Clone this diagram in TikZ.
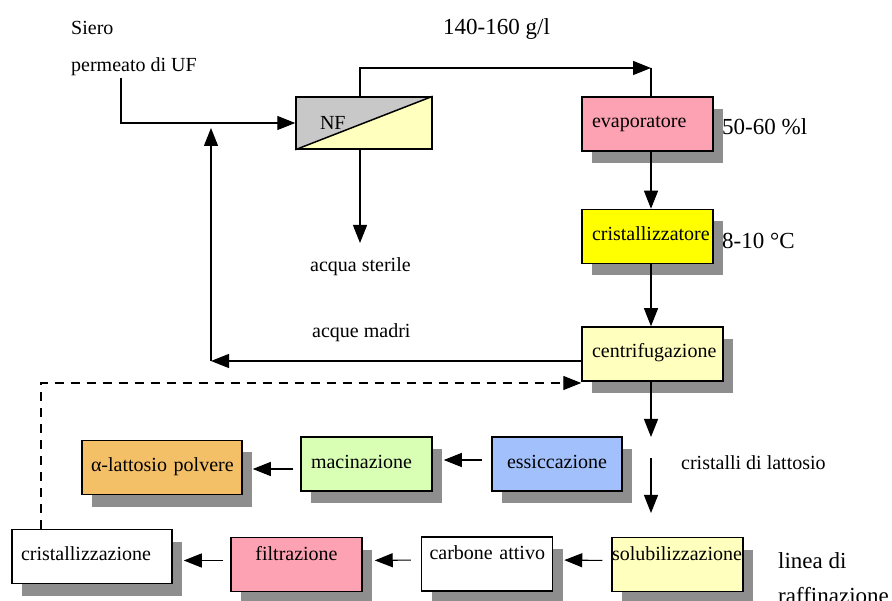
\documentclass[tikz,border=0pt]{standalone}
\usepackage{fontspec}
\setmainfont{Liberation Serif}
\usetikzlibrary{arrows.meta,shadows}
\definecolor{grigio}{HTML}{C8C8C8}
\definecolor{giallino}{HTML}{FFFFBE}
\definecolor{rosa}{HTML}{FCA2B2}
\definecolor{giallo}{HTML}{FFFF00}
\definecolor{azzurro}{HTML}{A2C1FC}
\definecolor{verdino}{HTML}{D9FFB5}
\definecolor{arancio}{HTML}{F3BF67}
\definecolor{ombra}{HTML}{8E8E8E}
\begin{document}
\begin{tikzpicture}[x=1pt,y=-1pt,font=\fontsize{20}{24}\selectfont,
  box/.style={draw,line width=1.5pt,text width=#1,minimum height=54pt,text height=12pt,text depth=4pt,inner xsep=10pt,align=left,
    drop shadow={shadow xshift=10pt,shadow yshift=-12pt,fill=ombra,opacity=1}},
  alto/.style={text depth=21pt},
  lab/.style={anchor=base west,inner sep=0pt},
  big/.style={font=\fontsize{23}{28}\selectfont},
  arr/.style={line width=1.1pt,-{Triangle[length=18pt,width=14pt]}}]
\useasboundingbox (0,0) rectangle (892,601);
\node[draw,line width=1.5pt,text width=88pt,minimum height=52pt,inner xsep=24pt,align=left,
  path picture={\fill[grigio] (path picture bounding box.north west) -- (path picture bounding box.north east) -- (path picture bounding box.south west) -- cycle;
  \fill[giallino] (path picture bounding box.south east) -- (path picture bounding box.north east) -- (path picture bounding box.south west) -- cycle;}] (nf) at (364,123) {NF};
\draw[line width=1.5pt] (nf.south west) -- (nf.north east);
\node[box=111pt,fill=rosa] (evap) at (647.5,124) {evaporatore};
\node[box=111pt,fill=giallo] (crist) at (647.5,236.5) {cristallizzatore};
\node[box=121pt,fill=giallino] (centr) at (652.5,354) {centrifugazione};
\node[box=110pt,fill=azzurro,align=center] (essic) at (557,464) {essiccazione};
\node[box=111pt,fill=verdino] (macin) at (366.5,464) {macinazione};
\node[box=142pt,fill=arancio,inner xsep=9pt] (alfa) at (162,467.5) {\mbox{α-lattosio polvere}};
\node[box=131pt,fill=giallino,inner xsep=0pt,alto] (solub) at (677.5,564.5) {solubilizzazione};
\node[box=115pt,fill=white,inner xsep=8pt,alto] (carb) at (487,564) {\mbox{carbone attivo}};
\node[box=111pt,fill=rosa,align=center,alto] (filtr) at (296.5,564.5) {filtrazione};
\node[box=142pt,fill=white,inner xsep=9pt] (cristz) at (92,556.5) {cristallizzazione};
\node[lab] (siero) at (71,35) {Siero};
\node[lab] (permeato) at (71,72) {permeato di UF};
\node[lab,big] (conc) at (443,35) {140-160 g/l};
\node[lab,big] (grado) at (722,135) {50-60 \%l};
\node[lab,big] (temp) at (722,249) {8-10 °C};
\node[lab] (sterile) at (310,272) {acqua sterile};
\node[lab] (madri) at (312,338) {acque madri};
\node[lab] (cristalli) at (681,470) {cristalli di lattosio};
\node[lab,big] (linea) at (778,568) {linea di};
\node[lab,big] (raff) at (778,603) {raffinazione};
\coordinate (ingresso) at (121,78);
\coordinate (gomito) at (651,68);
\coordinate (scarico) at (360,243);
\coordinate (ritorno) at (211,361);
\coordinate (ritorno2) at (211,128);
\coordinate (tratto) at (41,383);
\coordinate (a1) at (651,437);
\coordinate (a2) at (651,458);
\coordinate (a3) at (651,513);
\draw[arr] (ingresso) |- (nf.west);
\draw[arr] (nf.north -| scarico) |- (gomito);
\draw[line width=1.1pt] (gomito) -- (gomito |- evap.north);
\draw[arr] (nf.south -| scarico) -- (scarico);
\draw[arr] (evap.south -| gomito) -- (crist.north -| gomito);
\draw[arr] (crist.south -| gomito) -- (centr.north -| gomito);
\draw[arr] (centr.west |- ritorno) -- (ritorno);
\draw[arr] (ritorno) -- (ritorno2);
\draw[arr,dash pattern=on 9pt off 7pt] (cristz.north -| tratto) -- (tratto) -- (tratto -| centr.west);
\draw[arr] (centr.south -| gomito) -- (a1);
\draw[arr] (a2) -- (a3);
\draw[arr,shorten <=9pt,shorten >=11pt] ([yshift=4pt]essic.west) -- ([yshift=4pt]macin.east);
\draw[arr,shorten <=7pt,shorten >=10pt] ([yshift=-5pt]macin.west) -- ([yshift=-5pt]macin.west -| alfa.east);
\draw[arr,shorten <=9pt,shorten >=11pt] ([yshift=4pt]solub.west) -- ([yshift=4pt]carb.east);
\draw[arr,shorten <=10pt,shorten >=12pt] ([yshift=4pt]carb.west) -- ([yshift=4pt]filtr.east);
\draw[arr,shorten <=7pt,shorten >=11pt] ([yshift=4pt]filtr.west) -- ([yshift=4pt]filtr.west -| cristz.east);
\end{tikzpicture}
\end{document}
